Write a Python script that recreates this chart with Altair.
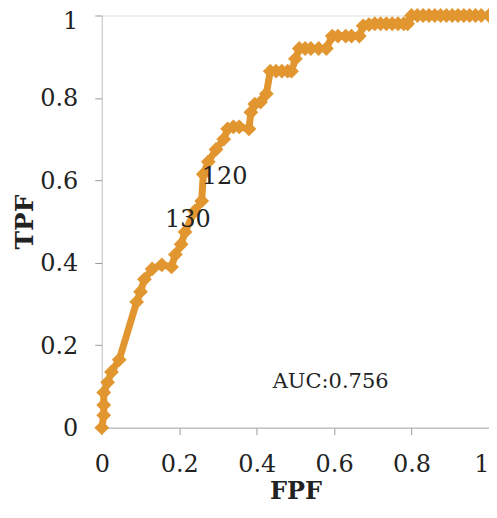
import altair as alt
import pandas as pd

fpf = [0, 0.005, 0.005, 0.005, 0.015, 0.025, 0.045, 0.09, 0.10, 0.11, 0.13, 0.155, 0.18,
       0.19, 0.205, 0.215, 0.24, 0.258, 0.262, 0.275, 0.295, 0.315, 0.325, 0.34, 0.355,
       0.38, 0.385, 0.395, 0.41, 0.425, 0.435, 0.45, 0.465, 0.48, 0.49, 0.50, 0.51, 0.525,
       0.54, 0.56, 0.58, 0.595, 0.61, 0.63, 0.645, 0.665, 0.675, 0.69, 0.705, 0.72, 0.735,
       0.75, 0.765, 0.78, 0.79, 0.80, 0.815, 0.83, 0.845, 0.86, 0.875, 0.89, 0.905, 0.92,
       0.935, 0.95, 0.965, 0.98, 1.0]
tpf = [0, 0.03, 0.055, 0.085, 0.11, 0.135, 0.165, 0.305, 0.33, 0.36, 0.385, 0.395, 0.39,
       0.42, 0.445, 0.475, 0.525, 0.55, 0.615, 0.645, 0.675, 0.70, 0.725, 0.73, 0.73,
       0.725, 0.765, 0.785, 0.79, 0.81, 0.865, 0.865, 0.865, 0.865, 0.865, 0.895, 0.92, 0.92,
       0.92, 0.92, 0.92, 0.95, 0.95, 0.95, 0.95, 0.95, 0.975, 0.978, 0.98, 0.98, 0.98,
       0.98, 0.98, 0.98, 0.98, 1.0, 1.0, 1.0, 1.0, 1.0, 1.0, 1.0, 1.0, 1.0,
       1.0, 1.0, 1.0, 1.0, 1.0]

label_text = ["130", "120", "AUC:0.756"]
label_x = [0.222, 0.317, 0.591]
label_y = [0.504, 0.608, 0.111]
label_size = [24, 24, 21]

ORANGE = "#E2962F"
FONT = "DejaVu Serif"

df = pd.DataFrame({"FPF": fpf, "TPF": tpf, "order": list(range(len(fpf)))})
lab = pd.DataFrame({"t": label_text, "x": label_x, "y": label_y, "s": label_size})

xs = alt.Scale(domain=[0, 1], nice=False)
ys = alt.Scale(domain=[0, 1], nice=False)

base = alt.Chart(df).encode(
    x=alt.X("FPF:Q", scale=xs,
            axis=alt.Axis(title="FPF", values=[0, 0.2, 0.4, 0.6, 0.8, 1], format="~g",
                          grid=False, domainColor="#b0b0b0", tickColor="#999999",
                          tickSize=7, labelFontSize=24, labelFont=FONT, labelColor="#222222",
                          labelAlign={"condition": {"test": "datum.value == 1", "value": "right"},
                                      "value": "center"},
                          labelPadding=18, titleFont=FONT, titleFontSize=24,
                          titleFontWeight="bold", titleColor="#222222", titlePadding=3)),
    y=alt.Y("TPF:Q", scale=ys,
            axis=alt.Axis(title="TPF", values=[0, 0.2, 0.4, 0.6, 0.8, 1], format="~g",
                          grid=False, domainColor="#c8c8c8", tickColor="#999999",
                          tickSize=7, labelFontSize=24, labelFont=FONT, labelColor="#222222",
                          labelPadding=17,
                          labelOffset={"condition": {"test": "datum.value == 1", "value": 6},
                                       "value": 1},
                          titleFont=FONT, titleFontSize=25,
                          titleFontWeight="bold", titleColor="#222222", titlePadding=2)),
    order="order:Q",
)

line = base.mark_line(color=ORANGE, strokeWidth=7, clip=False)
pts = base.mark_point(shape="diamond", filled=True, color=ORANGE, size=220, opacity=1, clip=False)

txt = alt.Chart(lab).mark_text(font=FONT, color="#222222", align="center", baseline="middle").encode(
    x=alt.X("x:Q", scale=xs),
    y=alt.Y("y:Q", scale=ys),
    text="t:N",
    size=alt.Size("s:Q", scale=None, legend=None),
)

chart = (line + pts + txt).properties(
    width=388, height=413,
    autosize=alt.AutoSizeParams(type="none"),
    padding={"left": 94, "top": 7, "right": 0, "bottom": 82},
).configure_view(stroke=None).configure(background="white")

chart.save("out.html", embed_options={"renderer": "svg", "actions": False})
